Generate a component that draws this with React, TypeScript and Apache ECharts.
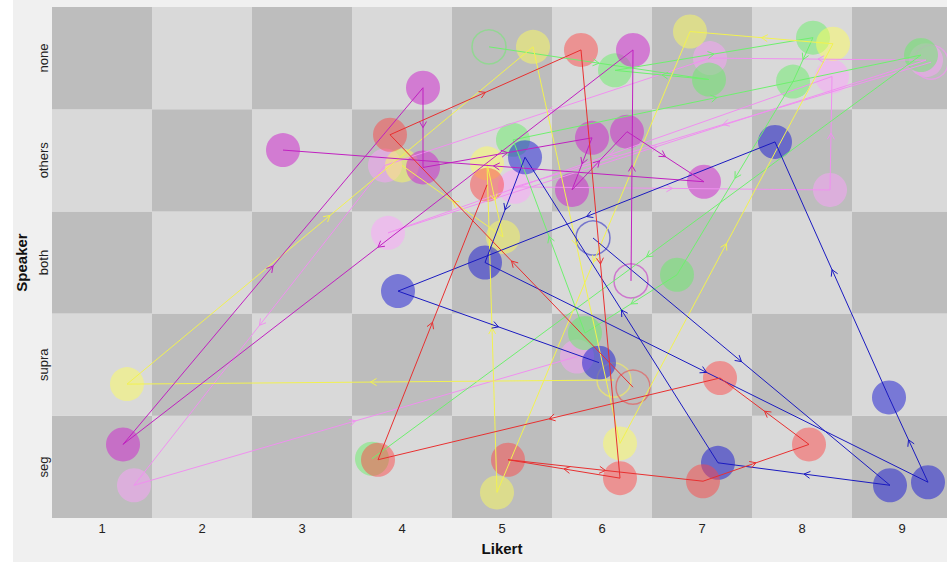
import React, { useEffect, useRef } from "react";
import * as echarts from "echarts";

// ---- data ----
const speakerLabels = ["seg", "supra", "both", "others", "none"];
const likertTicks = [1, 2, 3, 4, 5, 6, 7, 8, 9];

// each path: first point is the (hollow) starting point, then in order of the arrows
const pinkX = [9.29, 5.13, 8.28, 8.3, 3.86, 9.24, 7.08, 3.83, 1.32, 5.75];
const pinkY = [4.96, 3.74, 3.71, 4.82, 3.29, 4.98, 5.0, 3.95, 0.82, 2.08];

const greenX = [4.87, 7.07, 6.13, 8.11, 7.91, 6.75, 5.83, 5.11, 9.19, 3.7];
const greenY = [5.11, 4.79, 4.88, 5.2, 4.77, 2.88, 2.31, 4.2, 5.03, 1.08];

const yellowX = [6.12, 1.25, 5.31, 6.18, 8.31, 6.88, 4.95, 4.85, 5.01, 4.0];
const yellowY = [1.85, 1.81, 5.11, 1.23, 5.14, 5.26, 0.75, 3.97, 3.25, 3.95];

const blueX = [5.91, 8.88, 7.16, 5.23, 4.83, 9.26, 8.87, 7.73, 3.96, 5.97];
const blueY = [3.24, 0.82, 1.04, 4.03, 3.0, 0.85, 1.68, 4.18, 2.72, 2.02];

const magentaX = [6.29, 6.31, 1.21, 4.21, 4.21, 5.9, 5.7, 6.25, 7.02, 2.81];
const magentaY = [2.82, 5.08, 1.22, 4.71, 3.93, 4.22, 3.71, 4.28, 3.79, 4.1];

const redX = [6.31, 3.88, 5.79, 6.18, 5.06, 7.01, 8.07, 7.18, 3.76, 4.85];
const redY = [1.78, 4.25, 5.08, 0.89, 1.07, 0.86, 1.22, 1.87, 1.07, 3.76];

// ---- styles (drawing order bottom -> top) ----
const paths = [
  { xs: pinkX, ys: pinkY, fill: "rgba(255,160,255,0.6)", ring: "rgba(240,150,240,0.9)", line: "#f090f0" },
  { xs: greenX, ys: greenY, fill: "rgba(100,240,100,0.6)", ring: "rgba(130,225,130,0.9)", line: "#6ef06e" },
  { xs: yellowX, ys: yellowY, fill: "rgba(255,255,90,0.6)", ring: "rgba(235,230,110,0.95)", line: "#f2f250" },
  { xs: blueX, ys: blueY, fill: "rgba(30,30,210,0.65)", ring: "rgba(80,80,200,0.9)", line: "#1a1ac0" },
  { xs: magentaX, ys: magentaY, fill: "rgba(205,50,205,0.7)", ring: "rgba(200,80,200,0.9)", line: "#c020c0" },
  { xs: redX, ys: redY, fill: "rgba(255,70,70,0.6)", ring: "rgba(225,100,100,0.9)", line: "#e83030" },
];

const DARK = "#bdbdbd";
const LIGHT = "#d9d9d9";
const FONT = "'Liberation Sans', Arial, sans-serif";

export default function App() {
  const ref = useRef<HTMLDivElement>(null);

  useEffect(() => {
    if (!ref.current) return;
    const chart = echarts.init(ref.current, undefined, { renderer: "svg" });

    const cells: number[][] = [];
    likertTicks.forEach((c) => {
      speakerLabels.forEach((_, i) => {
        const r = i + 1;
        const fromTop = speakerLabels.length - r;
        cells.push([c, r, (c + fromTop) % 2 === 1 ? 1 : 0]);
      });
    });

    const series: any[] = [
      {
        type: "custom",
        silent: true,
        z: 0,
        data: cells,
        encode: { x: 0, y: 1 },
        renderItem: (params: any, api: any) => {
          const x = api.value(0);
          const y = api.value(1);
          const p0 = api.coord([x - 0.5, y + 0.5]);
          const p1 = api.coord([x + 0.5, y - 0.5]);
          return {
            type: "rect",
            shape: { x: p0[0], y: p0[1], width: p1[0] - p0[0], height: p1[1] - p0[1] },
            style: { fill: api.value(2) ? DARK : LIGHT },
          };
        },
      },
    ];

    paths.forEach((p) => {
      const pts = p.xs.map((x, i) => [x, p.ys[i]]);
      series.push({
        type: "scatter",
        silent: true,
        z: 2,
        symbolSize: 34,
        data: pts.slice(1),
        itemStyle: { color: p.fill, borderWidth: 0 },
      });
      series.push({
        type: "scatter",
        silent: true,
        z: 2,
        symbolSize: 34,
        data: [pts[0]],
        itemStyle: { color: "rgba(0,0,0,0)", borderColor: p.ring, borderWidth: 1.5 },
      });
    });

    paths.forEach((p) => {
      const segs: number[][] = [];
      for (let i = 0; i < p.xs.length - 1; i++) {
        segs.push([p.xs[i], p.ys[i], p.xs[i + 1], p.ys[i + 1]]);
      }
      series.push({
        type: "custom",
        silent: true,
        z: 3,
        data: segs,
        encode: { x: [0, 2], y: [1, 3] },
        renderItem: (params: any, api: any) => {
          const a = api.coord([api.value(0), api.value(1)]);
          const b = api.coord([api.value(2), api.value(3)]);
          const dx = b[0] - a[0];
          const dy = b[1] - a[1];
          const len = Math.sqrt(dx * dx + dy * dy) || 1;
          const ux = dx / len;
          const uy = dy / len;
          const mx = (a[0] + b[0]) / 2;
          const my = (a[1] + b[1]) / 2;
          const L = 7;
          const ang = Math.PI / 6;
          const w1 = [
            mx - L * (ux * Math.cos(ang) - uy * Math.sin(ang)),
            my - L * (uy * Math.cos(ang) + ux * Math.sin(ang)),
          ];
          const w2 = [
            mx - L * (ux * Math.cos(-ang) - uy * Math.sin(-ang)),
            my - L * (uy * Math.cos(-ang) + ux * Math.sin(-ang)),
          ];
          return {
            type: "group",
            children: [
              {
                type: "line",
                shape: { x1: a[0], y1: a[1], x2: b[0], y2: b[1] },
                style: { stroke: p.line, lineWidth: 1, fill: "none" },
              },
              {
                type: "polyline",
                shape: { points: [w1, [mx, my], w2] },
                style: { stroke: p.line, lineWidth: 1, fill: "none" },
              },
            ],
          };
        },
      });
    });

    chart.setOption({
      animation: false,
      backgroundColor: "#f0f0f0",
      textStyle: { fontFamily: FONT },
      grid: {
        left: 39,
        top: 7,
        width: 900,
        height: 511,
        containLabel: false,
        outerBoundsMode: "none",
      },
      xAxis: {
        type: "value",
        min: 0.5,
        max: 9.5,
        name: "Likert",
        nameLocation: "middle",
        nameGap: 23,
        nameTextStyle: { fontSize: 15, fontWeight: "bold", color: "#111", fontFamily: FONT },
        axisLine: { show: false },
        axisTick: { show: false },
        splitLine: { show: false },
        axisLabel: {
          customValues: likertTicks,
          fontSize: 13,
          color: "#222",
          margin: 4,
          fontFamily: FONT,
        },
      },
      yAxis: {
        type: "value",
        min: 0.5,
        max: 5.5,
        name: "Speaker",
        nameLocation: "middle",
        nameGap: 20,
        nameTextStyle: { fontSize: 15, fontWeight: "bold", color: "#111", fontFamily: FONT },
        axisLine: { show: false },
        axisTick: { show: false },
        splitLine: { show: false },
        axisLabel: {
          customValues: [1, 2, 3, 4, 5],
          formatter: (v: number) => speakerLabels[Math.round(v) - 1] || "",
          rotate: 90,
          fontSize: 13,
          color: "#222",
          margin: 2,
          fontFamily: FONT,
        },
      },
      series,
    });

    return () => chart.dispose();
  }, []);

  return (
    <div
      ref={ref}
      style={{ position: "absolute", left: 13, top: 0, width: 934, height: 562 }}
    />
  );
}
